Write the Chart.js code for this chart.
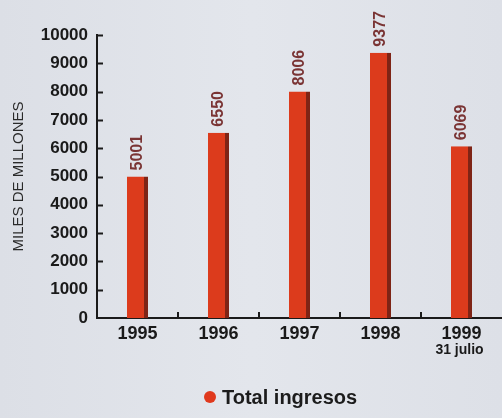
<!DOCTYPE html>
<html lang="es">
<head>
<meta charset="utf-8">
<title>Total ingresos</title>
<script src="https://cdn.jsdelivr.net/npm/chart.js@4/dist/chart.umd.min.js"></script>
<style>
  html, body { margin: 0; padding: 0; background: #dfe2e8; }
  #wrap { position: relative; width: 502px; height: 418px; overflow: hidden;
          background: linear-gradient(90deg, #dcdfe6 0%, #e3e6ec 50%, #dde0e7 100%); }
  #legend { position: absolute; left: 204px; top: 386px; font: bold 20px "Liberation Sans", Arial, sans-serif;
            color: #1c1c1c; white-space: nowrap; }
  #legend .dot { display: inline-block; width: 12px; height: 12px; border-radius: 50%;
                 background: #e0391d; margin-right: 6px; vertical-align: 1px; }
</style>
</head>
<body>
<div id="wrap">
  <canvas id="chart" width="502" height="418"></canvas>
  <div id="legend"><span class="dot"></span>Total ingresos</div>
</div>
<script>
'use strict';

/* ---- data ---- */
const years     = ['1995', '1996', '1997', '1998', '1999'];
const subLabels = ['', '', '', '', '31 julio'];
const ingresos  = [5001, 6550, 8006, 9377, 6069];
const yTicks    = [0, 1000, 2000, 3000, 4000, 5000, 6000, 7000, 8000, 9000, 10000];

const INK = '#1a1a1a';

/* inward tick marks, value labels above bars, second line under 1999 */
const decorPlugin = {
  id: 'decor',
  afterDraw(chart) {
    const ctx = chart.ctx;
    const xs = chart.scales.x, ys = chart.scales.y;
    const area = chart.chartArea;
    ctx.save();
    ctx.strokeStyle = INK;
    ctx.lineWidth = 2;

    /* y ticks pointing right into the plot */
    yTicks.forEach(function (v) {
      if (v === 0) return;
      const y = Math.round(ys.getPixelForValue(v)) + 0.5;
      ctx.beginPath();
      ctx.moveTo(area.left, y);
      ctx.lineTo(area.left + 6, y);
      ctx.stroke();
    });

    /* x ticks between categories pointing up */
    for (let i = 0; i < years.length - 1; i++) {
      const x = Math.round((xs.getPixelForValue(i) + xs.getPixelForValue(i + 1)) / 2);
      ctx.beginPath();
      ctx.moveTo(x, area.bottom);
      ctx.lineTo(x, area.bottom - 6);
      ctx.stroke();
    }

    /* rotated values above bars */
    ctx.fillStyle = '#7a3434';
    ctx.font = 'bold 16px "Liberation Sans", Arial, sans-serif';
    ctx.textAlign = 'left';
    ctx.textBaseline = 'middle';
    ingresos.forEach(function (v, i) {
      const x = xs.getPixelForValue(i);
      const y = ys.getPixelForValue(v) - 6;
      ctx.save();
      ctx.translate(x, y);
      ctx.rotate(-Math.PI / 2);
      ctx.fillText(String(v), 0, 0);
      ctx.restore();
    });

    /* sub labels under category ticks */
    ctx.fillStyle = INK;
    ctx.font = 'bold 14px "Liberation Sans", Arial, sans-serif';
    ctx.textAlign = 'center';
    ctx.textBaseline = 'top';
    subLabels.forEach(function (s, i) {
      if (!s) return;
      ctx.fillText(s, xs.getPixelForValue(i) - 2, area.bottom + 25);
    });
    ctx.restore();
  }
};

new Chart(document.getElementById('chart'), {
  type: 'bar',
  data: {
    labels: years,
    datasets: [{
      label: 'Total ingresos',
      data: ingresos,
      backgroundColor: '#dc3b1c',
      borderColor: '#7e2416',
      borderWidth: { right: 4, left: 0, top: 0, bottom: 0 },
      borderSkipped: false,
      barPercentage: 0.26,
      categoryPercentage: 1
    }]
  },
  options: {
    responsive: false,
    animation: false,
    layout: { padding: { top: 35, right: 0, bottom: 0, left: 0 } },
    plugins: { legend: { display: false }, tooltip: { enabled: false } },
    scales: {
      x: {
        grid: { display: false, drawTicks: false },
        border: { display: true, color: INK, width: 2 },
        ticks: {
          color: INK,
          padding: 5,
          maxRotation: 0,
          font: { family: '"Liberation Sans", Arial, sans-serif', size: 18, weight: 'bold' }
        },
        afterFit: function (s) { s.height = 100; }
      },
      y: {
        min: 0,
        max: 10000,
        afterBuildTicks: function (s) { s.ticks = yTicks.map(function (v) { return { value: v }; }); },
        grid: { display: false, drawTicks: false },
        border: { display: true, color: INK, width: 2 },
        ticks: {
          color: INK,
          padding: 9,
          callback: function (v) { return String(v); },
          font: { family: '"Liberation Sans", Arial, sans-serif', size: 17, weight: 'bold' }
        },
        title: {
          display: true,
          text: 'MILES DE MILLONES',
          color: '#2a2a2a',
          padding: { top: 10, bottom: 0 },
          font: { family: '"Liberation Sans", Arial, sans-serif', size: 15 }
        },
        afterFit: function (s) { s.width = 97; }
      }
    }
  },
  plugins: [decorPlugin]
});
</script>
</body>
</html>
